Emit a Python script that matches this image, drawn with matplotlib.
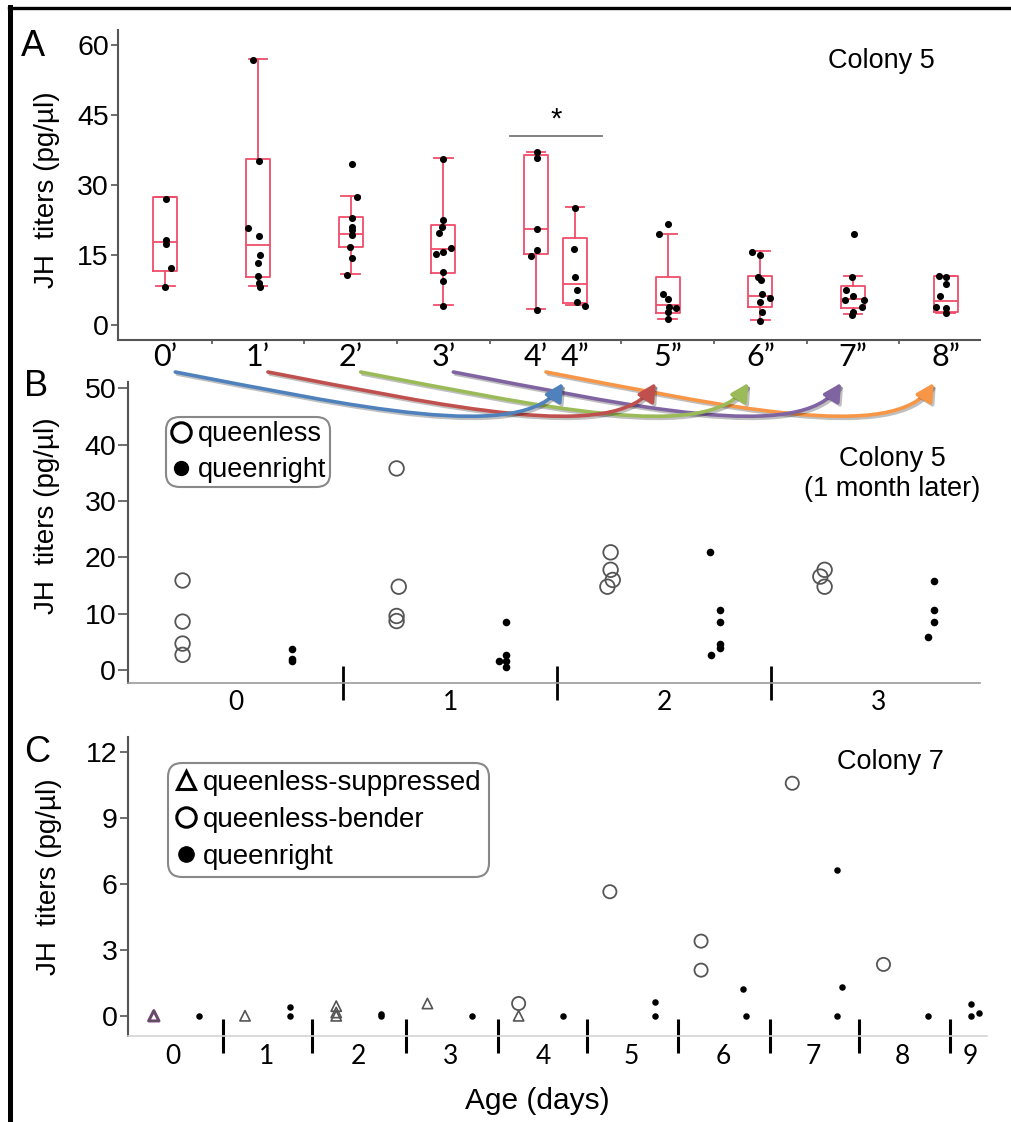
import numpy as np
import matplotlib
matplotlib.use("Agg")
import matplotlib.pyplot as plt
from matplotlib.lines import Line2D
from matplotlib.patches import FancyArrowPatch
from matplotlib.path import Path
import matplotlib.patheffects as pe

# ---------------------------------------------------------------------------
# Data
# ---------------------------------------------------------------------------
# Panel A: box plots, Colony 5
cats_a = ["0\u2019", "1\u2019", "2\u2019", "3\u2019", "4\u2019",
          "4\u201d", "5\u201d", "6\u201d", "7\u201d", "8\u201d"]
box_q1 = [11.6, 10.2, 16.8, 11.2, 15.2, 4.8, 2.6, 3.9, 3.6, 2.7]
box_med = [17.7, 17.1, 19.6, 16.3, 20.6, 8.9, 4.3, 6.2, 5.5, 5.1]
box_q3 = [27.5, 35.5, 23.1, 21.4, 36.4, 18.6, 10.3, 10.5, 8.4, 10.5]
box_lo = [8.4, 8.4, 10.9, 4.4, 3.4, 4.2, 1.4, 1.1, 2.4, 2.5]
box_hi = [27.5, 57.0, 27.7, 35.8, 37.1, 25.2, 19.6, 15.9, 10.5, 10.5]

# individual bees: group index, titer, horizontal jitter
pts_a_grp = [0, 0, 0, 0, 0,
             1, 1, 1, 1, 1, 1, 1, 1, 1,
             2, 2, 2, 2, 2, 2, 2, 2, 2,
             3, 3, 3, 3, 3, 3, 3, 3, 3, 3,
             4, 4, 4, 4, 4, 4,
             5, 5, 5, 5, 5, 5,
             6, 6, 6, 6, 6, 6, 6, 6,
             7, 7, 7, 7, 7, 7, 7, 7, 7,
             8, 8, 8, 8, 8, 8, 8, 8, 8,
             9, 9, 9, 9, 9, 9, 9]
pts_a_val = [27.0, 18.2, 17.3, 12.3, 8.2,
             56.8, 35.2, 20.7, 19.1, 15.0, 13.2, 10.5, 9.1, 8.2,
             34.6, 27.5, 22.9, 21.1, 20.4, 19.3, 16.8, 14.4, 10.7,
             35.5, 22.4, 21.1, 19.8, 16.4, 15.6, 15.2, 11.4, 9.4, 4.1,
             37.0, 35.7, 20.5, 16.1, 14.8, 3.2,
             25.0, 16.2, 10.4, 7.5, 5.0, 4.1,
             21.6, 19.4, 6.6, 5.6, 3.9, 3.7, 2.7, 1.4,
             15.7, 15.0, 10.4, 9.6, 6.6, 5.7, 5.0, 2.9, 0.9,
             19.4, 10.4, 7.6, 6.2, 5.4, 5.4, 3.9, 2.9, 2.1,
             10.5, 10.4, 8.9, 6.2, 3.9, 3.6, 2.5]
pts_a_jit = [0.01, 0.01, 0.01, 0.065, 0.0,
             -0.054, 0.01, -0.108, 0.01, 0.02, 0.0, 0.0, 0.01, 0.02,
             0.01, 0.072, 0.01, 0.015, 0.01, 0.01, -0.01, 0.015, -0.036,
             0.0, 0.0, -0.018, -0.047, 0.079, 0.0, -0.079, 0.0, 0.0, 0.0,
             0.01, 0.01, 0.01, 0.01, -0.054, 0.01,
             0.005, -0.005, 0.005, 0.018, 0.018, 0.11,
             0.005, -0.09, -0.054, 0.005, 0.018, 0.09, 0.005, 0.005,
             -0.09, 0.0, -0.03, 0.008, 0.018, 0.108, 0.0, 0.018, 0.0,
             0.01, -0.008, -0.079, 0.0, 0.119, -0.09, 0.1, 0.0, -0.008,
             -0.072, 0.008, 0.008, -0.065, -0.1, 0.008, 0.008]

# Panel B: Colony 5, one month later (day, titer, jitter)
b_ql_day = [0, 0, 0, 0, 1, 1, 1, 1, 2, 2, 2, 2, 3, 3, 3]
b_ql_val = [15.9, 8.6, 4.7, 2.7, 35.8, 14.8, 9.6, 8.7,
            20.9, 17.8, 16.0, 14.8, 17.8, 16.6, 14.8]
b_ql_jit = [0, 0, 0, 0, 0, 0.01, 0, 0, 0, 0, 0.01, -0.015, 0, -0.02, 0]
b_qr_day = [0, 0, 0, 1, 1, 1, 1, 1, 2, 2, 2, 2, 2, 2, 3, 3, 3, 3]
b_qr_val = [3.7, 1.9, 1.6, 8.6, 2.7, 1.6, 1.6, 0.6,
            20.9, 10.7, 8.6, 4.6, 3.9, 2.7, 15.9, 10.7, 8.6, 5.8]
b_qr_jit = [0, 0, 0, 0, 0, -0.03, 0, 0,
            -0.045, 0, 0, 0, 0, -0.04, 0, 0, 0, -0.025]

# Panel C: Colony 7 (day, titer)
c_sup_day = [0, 0, 1, 2, 2, 2, 3, 4]
c_sup_val = [0.0, 0.0, 0.0, 0.44, 0.15, 0.0, 0.56, 0.0]
c_ben_day = [4, 5, 6, 6, 7, 8]
c_ben_val = [0.56, 5.65, 3.40, 2.08, 10.59, 2.34]
c_qr_day = [0, 1, 1, 2, 2, 3, 4, 5, 5, 6, 6, 7, 7, 7, 8, 9, 9, 9]
c_qr_val = [0.0, 0.41, 0.0, 0.08, 0.0, 0.0, 0.0, 0.61, 0.0,
            1.22, 0.0, 6.64, 1.32, 0.0, 0.0, 0.53, 0.0, 0.14]
c_qr_jit = [0, 0, 0, 0, 0, 0, 0, 0, 0,
            -0.03, 0, 0, 0.05, 0, 0, 0, 0, 0.09]

# ---------------------------------------------------------------------------
# Styling
# ---------------------------------------------------------------------------
plt.rcParams["font.family"] = ["Liberation Sans", "DejaVu Sans"]
CAT_FONT = ["Lato", "DejaVu Sans"]
BOX_RED = "#ef4d69"
SPINE = "#555555"
TICK_FS = 20.5
LABEL_FS = 20
W, H = 1011, 1122

fig = plt.figure(figsize=(W / 100, H / 100), dpi=100)


def px_axes(l, t, r, b):
    """Axes placed by pixel box (left, top, right, bottom)."""
    return fig.add_axes([l / W, 1 - b / H, (r - l) / W, (b - t) / H])


def style_axes(ax, tick_len):
    for s in ("top", "right"):
        ax.spines[s].set_visible(False)
    ax.spines["left"].set_color(SPINE)
    ax.spines["left"].set_linewidth(1.5)
    ax.tick_params(axis="y", direction="out", length=tick_len, width=1.2,
                   color=SPINE, labelsize=TICK_FS, pad=1.5)


# frame lines (left + top) around the whole figure
fig.add_artist(Line2D([10 / W, 10 / W], [0, 1 - 7 / H], color="black",
                      lw=3.6, transform=fig.transFigure))
fig.add_artist(Line2D([8.5 / W, 1], [1 - 7.5 / H, 1 - 7.5 / H],
                      color="black", lw=2.4, transform=fig.transFigure))

# ---------------------------------------------------------------------------
# Panel A
# ---------------------------------------------------------------------------
ax = px_axes(118, 30, 980, 340)
pos_a = [0, 1, 2, 3, 4, 4.42, 5.42, 6.42, 7.42, 8.42]
sep_a = [0.5, 1.5, 2.5, 3.5, 4.92, 5.92, 6.92, 7.92]

stats = [dict(med=m, q1=a, q3=b, whislo=lo, whishi=hi, fliers=[])
         for m, a, b, lo, hi in zip(box_med, box_q1, box_q3, box_lo, box_hi)]
lp = dict(color=BOX_RED, lw=1.3)
ax.bxp(stats, positions=pos_a, widths=0.26, showfliers=False,
       boxprops=lp, whiskerprops=lp, capprops=lp, medianprops=lp,
       capwidths=0.2, manage_ticks=False)

xa = np.array([pos_a[g] for g in pts_a_grp]) + np.array(pts_a_jit)
ax.scatter(xa, pts_a_val, s=26, color="black", zorder=3, linewidths=0)

ax.set_xlim(-0.51, 8.79)
ax.set_ylim(-3.2, 63.2)
ax.set_yticks([0, 15, 30, 45, 60])
style_axes(ax, 5)
ax.spines["bottom"].set_color(SPINE)
ax.spines["bottom"].set_linewidth(1.5)
ax.set_xticks(sep_a)
ax.set_xticklabels([])
ax.tick_params(axis="x", which="major", direction="out", length=3,
               width=1.2, color=SPINE)
ax.set_xticks(pos_a, minor=True)
ax.set_xticklabels(cats_a, minor=True, family=CAT_FONT, fontsize=22)
ax.tick_params(axis="x", which="minor", length=0, pad=2)
ax.set_ylabel("JH  titers (pg/\u00b5l)", fontsize=LABEL_FS)
ax.yaxis.set_label_coords(-0.067, 0.484)

# significance bar between 4' and 4''
ax.plot([3.72, 4.71], [40.5, 40.5], color="#777777", lw=1.3,
        clip_on=False)
ax.text(4.22, 44.0, "*", ha="center", va="center", fontsize=21)
ax.text(0.886, 0.90, "Colony 5", transform=ax.transAxes, ha="center",
        va="center", fontsize=19.5)
fig.text(33 / W, 1 - 47 / H, "A", fontsize=26, ha="center", va="center")

ax_a = ax

# ---------------------------------------------------------------------------
# Panel B
# ---------------------------------------------------------------------------
ax = px_axes(128, 381.7, 980, 683)
ax.set_xlim(-0.505, 3.476)
ax.set_ylim(-2.3, 51.2)
ax.set_yticks([0, 10, 20, 30, 40, 50])
style_axes(ax, 7)
ax.spines["bottom"].set_color("#999999")
ax.spines["bottom"].set_linewidth(1.2)

xq = np.array(b_ql_day) - 0.25 + np.array(b_ql_jit)
ax.scatter(xq, b_ql_val, s=110, facecolors="none", edgecolors="#555555",
           linewidths=1.3, zorder=3)
xr = np.array(b_qr_day) + 0.26 + np.array(b_qr_jit)
ax.scatter(xr, b_qr_val, s=30, color="black", linewidths=0, zorder=3)

ax.set_xticks([0.5, 1.5, 2.5])
ax.set_xticklabels([])
ax.tick_params(axis="x", which="major", direction="inout", length=24,
               width=2, color="black")
ax.set_xticks([0, 1, 2, 3], minor=True)
ax.set_xticklabels(["0", "1", "2", "3"], minor=True, family=CAT_FONT,
                   fontsize=19)
ax.tick_params(axis="x", which="minor", length=0, pad=5)
ax.set_ylabel("JH  titers (pg/\u00b5l)", fontsize=LABEL_FS)
ax.yaxis.set_label_coords(-0.08, 0.554)

handles = [Line2D([], [], ls="", marker="o", ms=14, mfc="none",
                  mec="black", mew=2.2),
           Line2D([], [], ls="", marker="o", ms=10, color="black")]
leg = ax.legend(handles, ["queenless", "queenright"], loc="upper left",
                bbox_to_anchor=(0.045, 0.883), fontsize=19.5, frameon=True,
                fancybox=True, edgecolor="#888888", framealpha=1,
                handlelength=0.8, handletextpad=0.2, labelspacing=0.38,
                borderpad=0.15, borderaxespad=0)
leg.get_frame().set_linewidth(1.5)
leg.get_frame().set_boxstyle("round,pad=0,rounding_size=0.5")

ax.text(0.897, 0.695, "Colony 5\n(1 month later)", transform=ax.transAxes,
        ha="center", va="center", fontsize=19.5, linespacing=1.2)
fig.text(36 / W, 1 - 387 / H, "B", fontsize=26, ha="center", va="center")

# ---------------------------------------------------------------------------
# Panel C
# ---------------------------------------------------------------------------
ax = px_axes(128, 736.7, 987, 1036)
ax.set_xlim(-0.493, 8.925)
ax.set_ylim(-0.92, 12.71)
ax.set_yticks([0, 3, 6, 9, 12])
style_axes(ax, 6)
ax.spines["bottom"].set_color("#d4d4d4")
ax.spines["bottom"].set_linewidth(1.2)

day_pos = np.array([0, 1, 2, 3, 4, 5, 6, 7, 8, 8.47])
xs = day_pos[c_sup_day] - 0.21
tri_edge = ["#8a3b91"] + ["#555555"] * (len(c_sup_day) - 1)
ax.scatter(xs, c_sup_val, marker="^", s=55, facecolors="none",
           edgecolors=tri_edge, linewidths=[2.2] + [1.2] * (len(xs) - 1),
           zorder=3)
xb = day_pos[c_ben_day] - 0.21
ax.scatter(xb, c_ben_val, s=90, facecolors="none", edgecolors="#555555",
           linewidths=1.3, zorder=3)
xc = day_pos[c_qr_day] + 0.28 + np.array(c_qr_jit)
ax.scatter(xc, c_qr_val, s=22, color="black", linewidths=0, zorder=3)

ax.set_xticks([0.55, 1.52, 2.55, 3.56, 4.54, 5.54, 6.55, 7.52, 8.52])
ax.set_xticklabels([])
ax.tick_params(axis="x", which="major", direction="inout", length=24,
               width=2.2, color="black")
ax.set_xticks([0, 1.03, 2.03, 3.04, 4.06, 5.02, 6.03, 7.02, 8.0, 8.74],
              minor=True)
ax.set_xticklabels([str(d) for d in range(10)], minor=True,
                   family=CAT_FONT, fontsize=19)
ax.tick_params(axis="x", which="minor", length=0, pad=6)
ax.set_ylabel("JH  titers (pg/\u00b5l)", fontsize=LABEL_FS)
ax.yaxis.set_label_coords(-0.077, 0.531)

handles = [Line2D([], [], ls="", marker="^", ms=13, mfc="none",
                  mec="black", mew=2.2),
           Line2D([], [], ls="", marker="o", ms=14, mfc="none",
                  mec="black", mew=2.2),
           Line2D([], [], ls="", marker="o", ms=11, color="black")]
leg = ax.legend(handles, ["queenless-suppressed", "queenless-bender",
                          "queenright"], loc="upper left",
                bbox_to_anchor=(0.047, 0.912), fontsize=20, frameon=True,
                fancybox=True, edgecolor="#888888", framealpha=1,
                handlelength=0.8, handletextpad=0.2, labelspacing=0.4,
                borderpad=0.25, borderaxespad=0)
leg.get_frame().set_linewidth(1.5)
leg.get_frame().set_boxstyle("round,pad=0,rounding_size=0.5")

ax.text(0.888, 0.915, "Colony 7", transform=ax.transAxes, ha="center",
        va="center", fontsize=19.5)
ax.set_xlabel("Age (days)", fontsize=21.5)
ax.xaxis.set_label_coords(0.477, -0.172)
fig.text(37 / W, 1 - 752 / H, "C", fontsize=26, ha="center", va="center")

# ---------------------------------------------------------------------------
# Curved arrows linking 0'-4' to 4''-8''
# ---------------------------------------------------------------------------
arrow_cols = ["#4f81bd", "#c0504d", "#9bbb59", "#8064a2", "#f79646"]
for i in reversed(range(5)):
    sx = ax_a.transData.transform((pos_a[i], 0))[0] + 10
    ex = ax_a.transData.transform((pos_a[i + 5], 0))[0] - 12
    dx = ex - sx
    p = [(sx, 372), (sx + 0.45 * dx, 405), (ex - 0.1 * dx, 445), (ex, 383)]
    verts = [(x / W, 1 - y / H) for x, y in p]
    path = Path(verts, [Path.MOVETO, Path.CURVE4, Path.CURVE4, Path.CURVE4])
    arr = FancyArrowPatch(path=path,
                          arrowstyle="-|>,head_length=0.75,head_width=0.4",
                          mutation_scale=14, color=arrow_cols[i], lw=2.6,
                          transform=fig.transFigure)
    arr.set_path_effects([pe.SimpleLineShadow(offset=(1.5, -1.5),
                                              alpha=0.25), pe.Normal()])
    fig.add_artist(arr)

fig.savefig("out.png", dpi=100)
